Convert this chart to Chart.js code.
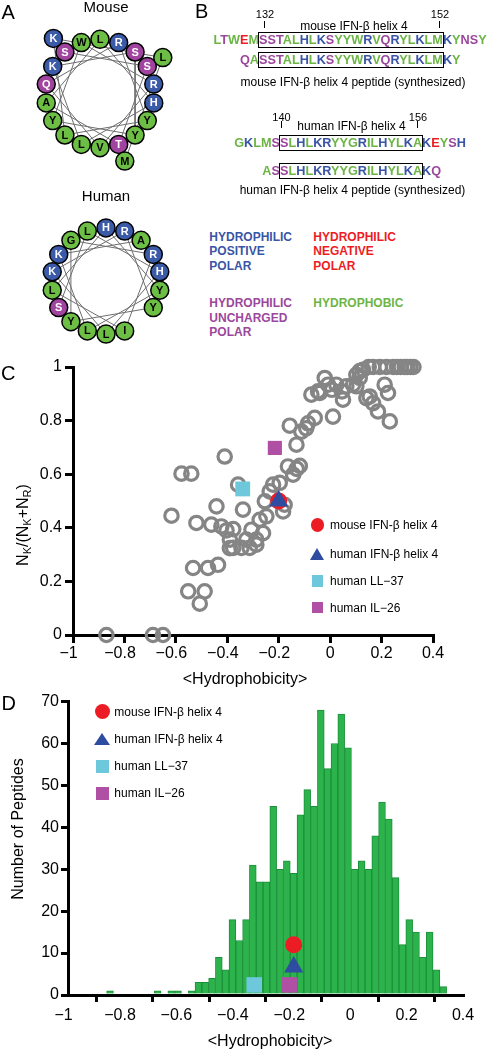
<!DOCTYPE html>
<html lang="en">
<head>
<meta charset="utf-8">
<title>IFN-beta helix 4 hydrophobicity</title>
<script src="https://cdn.jsdelivr.net/npm/chart.js@4.4.1/dist/chart.umd.min.js"></script>
<style>
html,body{margin:0;padding:0;background:#fff}
body{width:488px;height:1050px;position:relative;overflow:hidden;font-family:"Liberation Sans",Arial,Helvetica,sans-serif;color:#000}
.t{position:absolute;white-space:nowrap}
canvas{position:absolute;display:block}
.box{outline:1.6px solid #000}
.tk{position:absolute;background:#000}
.sb{font-size:11px;line-height:0;vertical-align:-3px}
</style>
</head>
<body>
<script>
// ---------------- DATA ----------------
const mouseWheelSeq = 'SSTALHLKSYYWRVQRYLKLM';
const humanWheelSeq = 'SLHLKRYYGRILHYLKA';
const mouseSeqFull = ['LTWEM', 'SSTALHLKSYYWRVQRYLKLM', 'KYNSY'];
const mouseSeqPeptide = ['QA', 'SSTALHLKSYYWRVQRYLKLM', 'KY'];
const humanSeqFull = ['GKLMS', 'SLHLKRYYGRILHYLKA', 'KEYSH'];
const humanSeqPeptide = ['AS', 'SLHLKRYYGRILHYLKA', 'KQ'];

// panel C: <Hydrophobicity> vs NK/(NK+NR) of database peptides
const peptideHydro = [0.115,0.128,0.15,0.167,0.193,0.219,0.245,0.26,0.275,0.29,0.30,0.312,0.324,
  0.102,0.115,-0.021,
  0.089,0.063,0.024,-0.008,0.212,0.102,
  0.046,0.007,-0.04,-0.073,-0.047,0.225,0.141,0.154,
  0.05,0.167,0.186,0.232,0.011,
  -0.06,-0.086,-0.093,-0.112,-0.157,-0.131,
  -0.41,
  -0.578,-0.54,
  -0.164,-0.118,-0.144,-0.13,
  -0.358,-0.222,-0.196,-0.235,
  -0.177,-0.183,-0.254,
  -0.617,-0.442,-0.339,
  -0.52,-0.462,-0.423,-0.403,-0.377,-0.306,-0.274,-0.248,-0.261,
  -0.287,-0.39,-0.326,
  -0.377,-0.345,-0.313,-0.39,-0.287,
  -0.533,-0.475,-0.436,
  -0.552,-0.488,-0.507,
  -0.87,-0.689,-0.65];
const peptideFrac = [0.985,0.99,1,1,1,1,1,1,1,1,1,1,1,
  0.971,0.959,0.959,
  0.934,0.928,0.934,0.934,0.934,0.928,
  0.909,0.915,0.903,0.897,0.909,0.903,0.884,0.89,
  0.878,0.865,0.834,0.797,0.815,
  0.81,0.79,0.771,0.759,0.781,0.71,
  0.666,
  0.602,0.602,
  0.629,0.631,0.598,0.62,
  0.561,0.561,0.568,0.536,
  0.486,0.461,0.499,
  0.445,0.48,0.468,
  0.418,0.412,0.405,0.39,0.395,0.393,0.43,0.443,0.38,
  0.356,0.356,0.356,
  0.325,0.325,0.325,0.324,0.337,
  0.25,0.25,0.262,
  0.163,0.163,0.117,
  0,0,0];

// panel D: histogram of <Hydrophobicity>
const histCounts = [1,0,0,0,0,0,0,1,0,1,
  1,0,1,3,3,4,9,6,18,13,
  18,31,27,27,45,30,32,29,43,49,
  45,68,54,60,67,59,30,32,30,38,
  46,42,28,12,18,15,9,15,6,2];
const HIST_START = -0.851, HIST_BIN = 0.0241;

// highlighted peptides
const markerNames = ['mouse IFN-\u03b2 helix 4', 'human IFN-\u03b2 helix 4', 'human LL\u221237', 'human IL\u221226'];
const markerHydro = [-0.2, -0.2, -0.34, -0.215];
const markerFrac = [0.5, 0.5, 0.545, 0.698];
const markerHistLevel = [12, 6.7, 2.4, 2.4];

const xTickStep = 0.2, yTickStepC = 0.2, yTickStepD = 10;

// ---------------- STYLE ----------------
const FONT = '"Liberation Sans", Arial, Helvetica, sans-serif';
const COL = {pos:'#3a55a5', neg:'#ed1c24', unc:'#9b479c', hyd:'#6cb545'};
const WCOL = {pos:'#3b5aa8', neg:'#ed1c24', unc:'#a0449f', hyd:'#6cbf44'};
const RED='#ec1c24', BLUE='#2e4ca0', CYAN='#6ec8dc', MAG='#af50a5', GRAY='#858585', GREEN='#2db34b', DKGREEN='#1b8f3a';
const MCOL = [RED, BLUE, CYAN, MAG];
const MSTYLE = ['circle', 'triangle', 'rect', 'rect'];

Chart.defaults.font.family = FONT;
Chart.defaults.color = '#000';

function cls(a){ if ('KRH'.includes(a)) return 'pos'; if ('DE'.includes(a)) return 'neg'; if ('STNQC'.includes(a)) return 'unc'; return 'hyd'; }

function txt(html, x, cy, o) {
  o = o || {};
  const d = document.createElement('div');
  d.className = 't';
  d.innerHTML = html;
  const fs = o.size || 12;
  d.style.fontSize = fs + 'px';
  d.style.lineHeight = fs + 'px';
  if (o.bold) d.style.fontWeight = 'bold';
  if (o.color) d.style.color = o.color;
  d.style.top = (cy - fs / 2) + 'px';
  d.style.left = '0px';
  document.body.appendChild(d);
  const w = d.getBoundingClientRect().width;
  let left = x;
  if (o.align === 'c') left = x - w / 2; else if (o.align === 'r') left = x - w;
  d.style.left = left + 'px';
  return d;
}
function vtxt(html, cx, cy, fs) {
  const d = document.createElement('div');
  d.className = 't';
  d.innerHTML = html;
  d.style.fontSize = fs + 'px';
  d.style.lineHeight = fs + 'px';
  d.style.height = fs + 'px';
  d.style.left = cx + 'px';
  d.style.top = cy + 'px';
  d.style.transformOrigin = '0 0';
  d.style.transform = 'rotate(-90deg) translate(-50%,-50%)';
  document.body.appendChild(d);
  return d;
}
function tick(x, y, h) {
  const d = document.createElement('div');
  d.className = 'tk';
  d.style.left = (x - 0.8) + 'px'; d.style.top = y + 'px';
  d.style.width = '1.6px'; d.style.height = h + 'px';
  document.body.appendChild(d);
}
function seqRow(parts, boxLeft, cy) {
  const html = parts.map((p, k) => {
    const inner = p.split('').map(a => '<span style="color:' + COL[cls(a)] + '">' + a + '</span>').join('');
    return k === 1 ? '<span class="box">' + inner + '</span>' : inner;
  }).join('');
  const d = txt(html, 0, cy, {size:12.7, bold:true});
  const box = d.querySelector('.box');
  const off = box.getBoundingClientRect().left - d.getBoundingClientRect().left;
  d.style.left = (boxLeft - off) + 'px';
}
function marker(style, color, cx, cy, s) {
  const d = document.createElement('div');
  d.style.position = 'absolute';
  if (style === 'triangle') {
    d.style.width = '0'; d.style.height = '0';
    d.style.borderLeft = (s.w / 2) + 'px solid transparent';
    d.style.borderRight = (s.w / 2) + 'px solid transparent';
    d.style.borderBottom = s.h + 'px solid ' + color;
    d.style.left = (cx - s.w / 2) + 'px'; d.style.top = (cy - s.h / 2) + 'px';
  } else {
    d.style.width = s.w + 'px'; d.style.height = s.w + 'px';
    d.style.background = color;
    if (style === 'circle') d.style.borderRadius = '50%';
    d.style.left = (cx - s.w / 2) + 'px'; d.style.top = (cy - s.w / 2) + 'px';
  }
  document.body.appendChild(d);
}
function canvasAt(left, top, w, h) {
  const c = document.createElement('canvas');
  c.width = w; c.height = h;
  c.style.left = left + 'px'; c.style.top = top + 'px';
  c.style.width = w + 'px'; c.style.height = h + 'px';
  document.body.appendChild(c);
  return c;
}
const fmtTick = v => {
  const r = Math.round(v * 10) / 10;
  return r < 0 ? '\u2212' + Math.abs(r) + '  ' : String(Math.abs(r) < 1e-9 ? 0 : r);
};

// ---------------- PANEL A: helical wheels ----------------
const WHEEL_PX = 61, WHEEL_OUTER = 81 / 61;
const wheelLetters = {
  id: 'wheelLetters',
  afterDatasetsDraw(chart, args, opts) {
    const ctx = chart.ctx, meta = chart.getDatasetMeta(0), seq = opts.seq;
    ctx.save();
    ctx.font = 'bold 11px ' + FONT;
    ctx.textAlign = 'center'; ctx.textBaseline = 'middle';
    meta.data.forEach((pt, i) => {
      const a = seq[i];
      ctx.fillStyle = cls(a) === 'hyd' ? '#000' : '#fff';
      ctx.fillText(a, pt.x, pt.y + 0.5);
    });
    ctx.restore();
  }
};
function makeWheel(seq, startDeg, left, top, w, h) {
  const cv = canvasAt(left, top, w, h);
  const res = seq.split('');
  const pts = res.map((aa, i) => {
    const ang = (startDeg + 100 * i) * Math.PI / 180;
    const r = i < 18 ? 1 : WHEEL_OUTER;
    return {x: r * Math.sin(ang), y: r * Math.cos(ang)};
  });
  const hw = w / 2 / WHEEL_PX, hh = h / 2 / WHEEL_PX;
  new Chart(cv, {
    type: 'scatter',
    data: {datasets: [
      {data: pts, pointRadius: 9, pointBackgroundColor: res.map(a => WCOL[cls(a)]), pointBorderColor: '#000', pointBorderWidth: 1.5, order: 1, clip: false},
      {data: pts, showLine: true, pointRadius: 0, borderColor: '#6e6e6e', borderWidth: 1, tension: 0, order: 2, clip: false}
    ]},
    options: {
      responsive: false, animation: false, events: [], devicePixelRatio: 1,
      layout: {padding: 0},
      scales: {x: {type: 'linear', display: false, min: -hw, max: hw}, y: {type: 'linear', display: false, min: -hh, max: hh}},
      plugins: {legend: {display: false}, tooltip: {enabled: false}, wheelLetters: {seq: seq}}
    },
    plugins: [wheelLetters]
  });
}
makeWheel(mouseWheelSeq, 320, 0, 0, 200, 187);
makeWheel(humanWheelSeq, 240, 6, 200, 200, 162);

// ---------------- PANEL C: scatter ----------------
function axisOpts(min, max, step, tl, pad, fitFn) {
  return {
    type: 'linear', min: min, max: max, offset: false,
    afterFit: fitFn,
    ticks: {stepSize: step, font: {size: 16, family: FONT}, color: '#000', padding: pad, maxRotation: 0, autoSkip: false, callback: fmtTick},
    grid: {display: true, drawOnChartArea: false, drawTicks: true, tickLength: tl, lineWidth: 3, color: '#000'},
    border: {display: true, width: 3, color: '#000'}
  };
}
const cC = canvasAt(0, 345, 488, 335);
const cDatasets = markerNames.map((n, i) => ({
  label: n, data: [{x: markerHydro[i], y: markerFrac[i]}], pointStyle: MSTYLE[i],
  pointRadius: [8.5, 11, 10.5, 10][i], pointBackgroundColor: MCOL[i], pointBorderColor: MCOL[i], pointBorderWidth: 0,
  order: [3, 2, 1, 1][i], clip: false
}));
cDatasets.push({
  label: 'peptides', data: peptideHydro.map((x, i) => ({x: x, y: peptideFrac[i]})), pointStyle: 'circle',
  pointRadius: 6.7, pointBorderWidth: 3.2, pointBorderColor: GRAY, pointBackgroundColor: 'rgba(0,0,0,0)', order: 10, clip: false
});
new Chart(cC, {
  type: 'scatter',
  data: {datasets: cDatasets},
  options: {
    responsive: false, animation: false, events: [], devicePixelRatio: 1,
    layout: {padding: {left: 0, top: 22, right: 55, bottom: 0}},
    scales: {
      x: Object.assign(axisOpts(-1, 0.4, xTickStep, 8, 1.4, s => { s.height = 45; }), {position: 'bottom'}),
      y: Object.assign(axisOpts(0, 1, yTickStepC, 8, 3, s => { s.width = 73; }), {position: 'left'})
    },
    plugins: {legend: {display: false}, tooltip: {enabled: false}}
  }
});

// ---------------- PANEL D: histogram ----------------
const cD = canvasAt(0, 690, 488, 340);
const dDatasets = markerNames.map((n, i) => ({
  type: 'scatter', label: n, data: [{x: markerHydro[i], y: markerHistLevel[i]}], pointStyle: MSTYLE[i],
  pointRadius: [8.5, 11, 11, 11][i], pointBackgroundColor: MCOL[i], pointBorderColor: MCOL[i], pointBorderWidth: 0,
  order: 1, clip: false
}));
dDatasets.push({
  type: 'bar', label: 'Number of Peptides',
  data: histCounts.map((c, i) => ({x: HIST_START + i * HIST_BIN, y: c})),
  backgroundColor: GREEN, borderColor: DKGREEN, borderWidth: 1, borderSkipped: 'start',
  barPercentage: 1, categoryPercentage: 1, order: 10
});
new Chart(cD, {
  type: 'bar',
  data: {datasets: dDatasets},
  options: {
    responsive: false, animation: false, events: [], devicePixelRatio: 1,
    layout: {padding: {left: 0, top: 11, right: 25, bottom: 0}},
    scales: {
      x: Object.assign(axisOpts(-1, 0.4, xTickStep, 7, 4.4, s => { s.height = 35; }), {position: 'bottom'}),
      y: Object.assign(axisOpts(0, 70, yTickStepD, 7, 2, s => { s.width = 68; }), {position: 'left'})
    },
    plugins: {legend: {display: false}, tooltip: {enabled: false}}
  }
});

// ---------------- TEXT ----------------
txt('A', 1.5, 11.7, {size: 20});
txt('B', 195, 10.5, {size: 20});
txt('C', 1, 372.5, {size: 20});
txt('D', 1.5, 702.5, {size: 20});
txt('Mouse', 106, 6.5, {size: 15, align: 'c'});
txt('Human', 106, 195.5, {size: 15, align: 'c'});

// panel B
txt('132', 265, 14, {size: 11, align: 'c'}); tick(264.3, 20.5, 7.5);
txt('152', 440, 14, {size: 11, align: 'c'}); tick(439.3, 20.5, 7.5);
txt('mouse IFN-\u03b2 helix 4', 354, 25.5, {size: 12, align: 'c'});
seqRow(mouseSeqFull, 259, 40.7);
seqRow(mouseSeqPeptide, 259, 60.7);
txt('mouse IFN-\u03b2 helix 4 peptide (synthesized)', 353, 82, {size: 12, align: 'c'});
txt('140', 281.5, 117, {size: 11, align: 'c'}); tick(281.7, 121, 6.5);
txt('156', 418, 117, {size: 11, align: 'c'}); tick(417.7, 121, 6.5);
txt('human IFN-\u03b2 helix 4', 351.5, 126, {size: 12, align: 'c'});
seqRow(humanSeqFull, 280, 143.3);
seqRow(humanSeqPeptide, 280, 171);
txt('human IFN-\u03b2 helix 4 peptide (synthesized)', 352.5, 190, {size: 12, align: 'c'});

[['HYDROPHILIC', 236.7], ['POSITIVE', 251], ['POLAR', 265.7]].forEach(r => txt(r[0], 209.3, r[1], {size: 12, bold: true, color: COL.pos}));
[['HYDROPHILIC', 236.7], ['NEGATIVE', 251], ['POLAR', 265.7]].forEach(r => txt(r[0], 313.3, r[1], {size: 12, bold: true, color: COL.neg}));
[['HYDROPHILIC', 303.3], ['UNCHARGED', 317.7], ['POLAR', 332.3]].forEach(r => txt(r[0], 209.3, r[1], {size: 12, bold: true, color: COL.unc}));
txt('HYDROPHOBIC', 313.3, 303.3, {size: 12, bold: true, color: COL.hyd});

// panel C legend + titles
const legC = [525, 553.5, 581, 607.5];
const legCs = [{w: 13.5}, {w: 15, h: 12}, {w: 11.6}, {w: 11.6}];
markerNames.forEach((n, i) => { marker(MSTYLE[i], MCOL[i], 317.5, legC[i], legCs[i]); txt(n, 330, legC[i], {size: 12}); });
txt('&lt;Hydrophobicity&gt;', 245, 679, {size: 16, align: 'c'});
vtxt('N<span class="sb">K</span>/(N<span class="sb">K</span>+N<span class="sb">R</span>)', 22.5, 525, 16);

// panel D legend + titles
const legD = [711.7, 739, 766, 793];
const legDs = [{w: 15}, {w: 17, h: 12}, {w: 13}, {w: 13}];
markerNames.forEach((n, i) => { marker(MSTYLE[i], MCOL[i], 102.5, legD[i], legDs[i]); txt(n, 114.3, legD[i], {size: 12}); });
txt('&lt;Hydrophobicity&gt;', 270, 1041, {size: 16, align: 'c'});
vtxt('Number of Peptides', 17.7, 829, 16);
</script>
</body>
</html>
